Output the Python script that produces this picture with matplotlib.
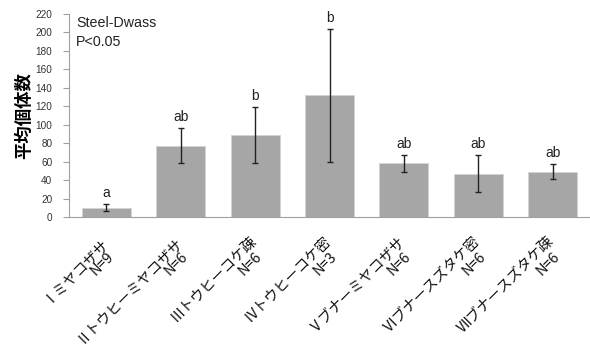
import matplotlib
matplotlib.use("Agg")
import matplotlib.pyplot as plt
import matplotlib.transforms as mtransforms

plt.rcParams['font.family'] = ['Noto Sans CJK JP', 'DejaVu Sans']

names = ["Ⅰミヤコザサ", "Ⅱトウヒーミヤコザサ", "Ⅲトウヒーコケ疎", "Ⅳトウヒーコケ密",
         "Ⅴブナーミヤコザサ", "Ⅵブナースズタケ密", "Ⅶブナースズタケ疎"]
counts = ["N=9", "N=6", "N=6", "N=3", "N=6", "N=6", "N=6"]
means = [10, 77, 89, 132, 58, 47, 49]
errors = [4, 19, 30, 72, 9, 20, 8]
letters = ["a", "ab", "b", "b", "ab", "ab", "ab"]
yticks = list(range(0, 221, 20))

fig = plt.figure(figsize=(5.9, 3.47), dpi=100)
ax = fig.add_axes([69/590, 1-217/347, 521/590, (217-14)/347])

x = list(range(len(names)))
ax.bar(x, means, width=0.66, color='#a6a6a6', edgecolor='#d4d4d4', linewidth=0.6, zorder=2)
ax.errorbar(x, means, yerr=errors, fmt='none', ecolor='#222222', elinewidth=1.0,
            capsize=2.5, capthick=1.0, zorder=3)
for xi, m, e, l in zip(x, means, errors, letters):
    ax.annotate(l, (xi, m + e), xytext=(0, 3), textcoords='offset points',
                ha='center', va='bottom', fontsize=10, family=['Liberation Sans'], color='#222222')

ax.set_xlim(-0.5, len(names) - 0.5)
ax.set_ylim(0, 220)
ax.set_yticks(yticks)
ax.set_yticklabels([str(v) for v in yticks], fontsize=7.2, family=['Liberation Sans'], color='#333333')
ax.tick_params(axis='y', length=4, width=0.8, color='#a0a0a0', pad=8)
ax.tick_params(axis='x', length=0)
ax.set_xticks(x)
ax.set_xticklabels([])
for s in ['top', 'right']:
    ax.spines[s].set_visible(False)
ax.spines['left'].set_color('#a0a0a0')
ax.spines['bottom'].set_color('#a0a0a0')

ax.set_ylabel("平均個体数", fontsize=12.5, fontweight='bold', labelpad=2)

ax.text(7/521, 1 - 2/203, "Steel-Dwass\nP<0.05", transform=ax.transAxes, ha='left', va='top',
        fontsize=10.3, family=['Liberation Sans'], linespacing=1.45, color='#222222')

off1 = mtransforms.ScaledTranslation(-1/100, -21.5/100, fig.dpi_scale_trans)
off2 = mtransforms.ScaledTranslation(4.7/100, -37/100, fig.dpi_scale_trans)
t1 = ax.get_xaxis_transform() + off1
t2 = ax.get_xaxis_transform() + off2
for xi, nm, cn in zip(x, names, counts):
    ax.text(xi, 0, nm, transform=t1, rotation=45, rotation_mode='anchor',
            ha='right', va='center', fontsize=10.4, color='#111111')
    ax.text(xi, 0, cn, transform=t2, rotation=45, rotation_mode='anchor',
            ha='right', va='center', fontsize=10.4, color='#111111')

fig.savefig("out.png", dpi=100)
